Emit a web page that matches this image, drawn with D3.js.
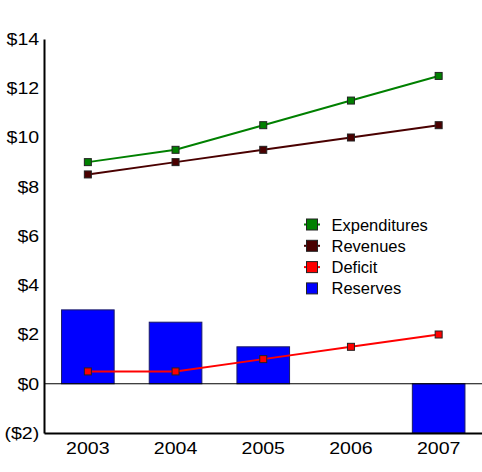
<!DOCTYPE html>
<html><head><meta charset="utf-8">
<script src="https://cdn.jsdelivr.net/npm/d3@7"></script>
<style>body{margin:0;background:#fff}svg{display:block}text{font-family:"Liberation Sans",Arial,sans-serif}</style>
</head><body><svg id="c" width="482" height="472"></svg>
<script>
const years = ["2003","2004","2005","2006","2007"];
const expenditures = [9, 9.5, 10.5, 11.5, 12.5];
const revenues = [8.5, 9, 9.5, 10, 10.5];
const deficit = [0.5, 0.5, 1, 1.5, 2];
const reserves = [3, 2.5, 1.5, 0, -2];
const yTicks = [-2, 0, 2, 4, 6, 8, 10, 12, 14];
const legendNames = ["Expenditures","Revenues","Deficit","Reserves"];
const colors = {Expenditures:"#008000", Revenues:"#4a0000", Deficit:"#ff0000", Reserves:"#0000ff"};

(function(){
const svg = d3.select("#c");
const mL = 44, mR = 482, mT = 39, mB = 433;
const x = d3.scaleBand().domain(years).range([mL, mR + 0.5]);
const y = d3.scaleLinear().domain([-2, 14]).range([mB, mT]);
const fmt = v => v < 0 ? "($" + (-v) + ")" : "$" + v;

// bars
svg.selectAll("rect.bar").data(years.map((yr,i)=>({yr, v:reserves[i]})).filter(d=>d.v!==0))
  .join("rect").attr("class","bar")
  .attr("x", d => x(d.yr) + x.bandwidth()*0.2)
  .attr("width", x.bandwidth()*0.6)
  .attr("y", d => y(Math.max(0,d.v)))
  .attr("height", d => Math.abs(y(d.v)-y(0)))
  .attr("fill", colors.Reserves).attr("stroke","#1a1a66").attr("stroke-width",1);

// zero line
svg.append("line").attr("x1",mL).attr("x2",mR).attr("y1",y(0)).attr("y2",y(0)).attr("stroke","#000").attr("stroke-width",1.2);

// axes
const yAxis = svg.append("g").attr("transform",`translate(${mL},0)`)
  .call(d3.axisLeft(y).tickValues(yTicks).tickFormat(fmt).tickSize(0).tickPadding(4));
yAxis.select(".domain").attr("stroke","#000").attr("stroke-width",2);
yAxis.selectAll("text").attr("font-size",17).attr("fill","#000")
  .attr("transform","scale(1.15,1)").attr("x",-4.2)
  .style("font-family","'Liberation Sans',Arial,sans-serif");
const xAxis = svg.append("g").attr("transform",`translate(0,${mB})`)
  .call(d3.axisBottom(x).tickSize(0).tickPadding(9));
xAxis.select(".domain").attr("stroke","#000").attr("stroke-width",2);
xAxis.selectAll("text").attr("font-size",17).attr("fill","#000")
  .attr("transform","scale(1.15,1)")
  .style("font-family","'Liberation Sans',Arial,sans-serif");

// lines
const series = [["Expenditures",expenditures],["Revenues",revenues],["Deficit",deficit]];
const line = d3.line().x((d,i)=>x(years[i])+x.bandwidth()/2).y(d=>y(d));
series.forEach(([name,vals])=>{
  svg.append("path").attr("d",line(vals)).attr("fill","none").attr("stroke",colors[name]).attr("stroke-width",2);
  svg.append("g").selectAll("rect").data(vals).join("rect")
    .attr("x",(d,i)=>x(years[i])+x.bandwidth()/2-3.5).attr("y",d=>y(d)-3.5)
    .attr("width",7).attr("height",7).attr("fill",colors[name]).attr("stroke","#222").attr("stroke-width",1);
});

// legend
const lg = svg.append("g").attr("transform","translate(304,224.5)");
legendNames.forEach((n,i)=>{
  const g = lg.append("g").attr("transform",`translate(0,${i*21.3})`);
  if (n !== "Reserves") g.append("line").attr("x1",0).attr("x2",16).attr("stroke",colors[n]).attr("stroke-width",2);
  g.append("rect").attr("x",2.5).attr("y",-5.5).attr("width",11).attr("height",11).attr("fill",colors[n]).attr("stroke","#222").attr("stroke-width",1);
  g.append("text").attr("x",27.5).attr("y",6).attr("font-size",16.5).text(n);
});
})();
</script></body></html>
